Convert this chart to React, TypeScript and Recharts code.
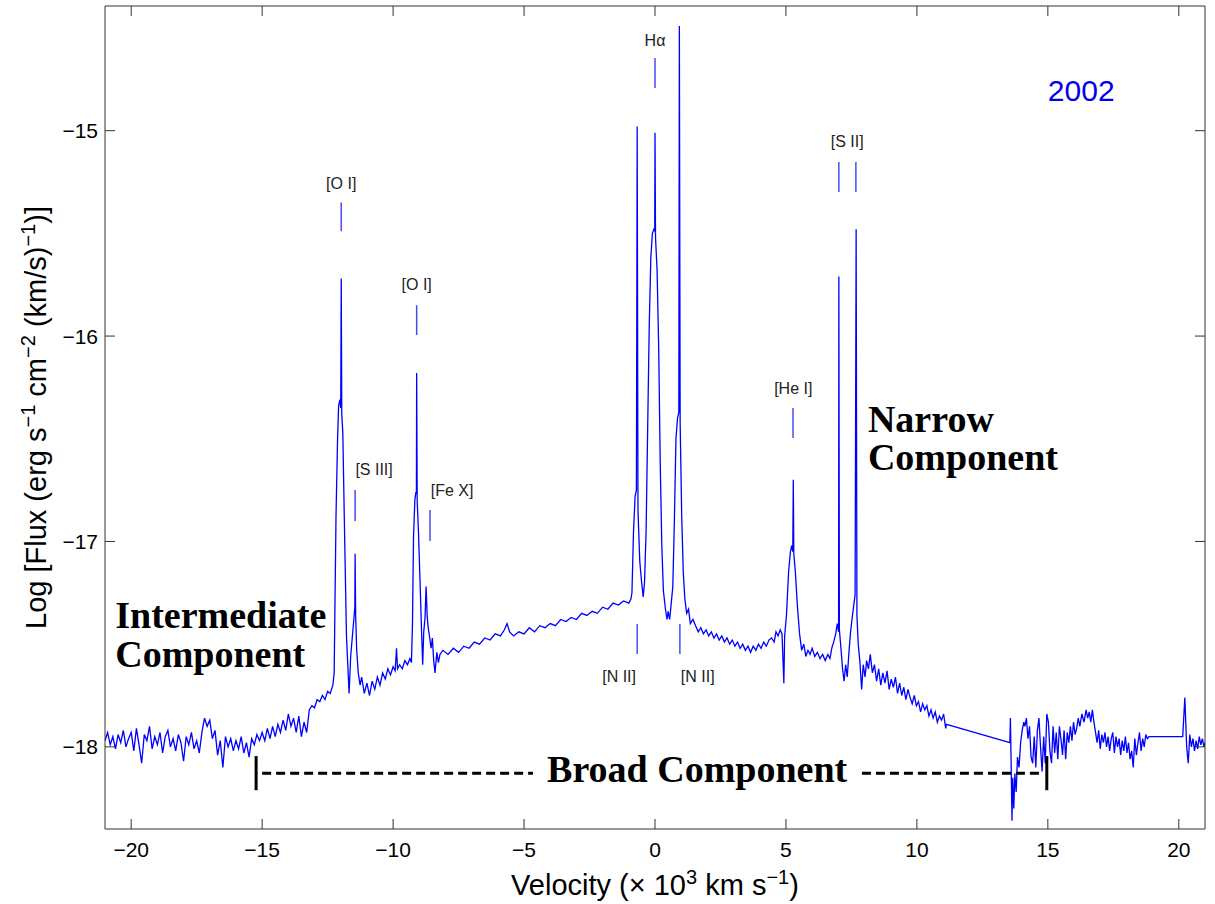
import React from 'react'
import { Label, Line, LineChart, ReferenceDot, ReferenceLine, XAxis, YAxis } from 'recharts'

type Pt = [number, number]

// velocity (10^3 km/s), log flux
const blueContinuum: Pt[] = [
  [-21.0, -17.97], [-20.9, -17.93], [-20.8, -17.99], [-20.7, -17.95], [-20.6, -18.01], [-20.5, -17.94],
  [-20.4, -17.98], [-20.3, -17.92], [-20.2, -18.0], [-20.1, -17.96], [-20.0, -17.93], [-19.9, -18.02],
  [-19.8, -17.91], [-19.7, -17.99], [-19.6, -18.08], [-19.5, -17.94], [-19.4, -17.97], [-19.3, -17.9],
  [-19.2, -18.01], [-19.1, -17.95], [-19.0, -17.99], [-18.9, -17.93], [-18.8, -18.03], [-18.7, -17.95],
  [-18.6, -17.92], [-18.5, -18.0], [-18.4, -17.96], [-18.3, -18.02], [-18.2, -17.94], [-18.1, -17.98],
  [-18.0, -18.07], [-17.9, -17.95], [-17.8, -17.99], [-17.7, -17.93], [-17.6, -18.01], [-17.5, -17.97],
  [-17.4, -18.03], [-17.3, -17.93], [-17.2, -17.86], [-17.1, -17.9], [-17.0, -17.87], [-16.9, -17.96],
  [-16.8, -17.92], [-16.7, -18.04], [-16.6, -17.97], [-16.5, -18.1], [-16.4, -17.95], [-16.3, -18.0],
  [-16.2, -17.96], [-16.1, -18.02], [-16.0, -17.97], [-15.9, -18.01], [-15.8, -17.95], [-15.7, -18.03],
  [-15.6, -17.98], [-15.5, -18.05], [-15.4, -17.96], [-15.3, -17.99], [-15.2, -17.94], [-15.1, -17.97],
  [-15.0, -17.93], [-14.9, -17.97], [-14.8, -17.91], [-14.7, -17.96], [-14.6, -17.9], [-14.5, -17.95],
  [-14.4, -17.89], [-14.3, -17.93], [-14.2, -17.87], [-14.1, -17.92], [-14.0, -17.84], [-13.9, -17.9],
  [-13.8, -17.86], [-13.7, -17.93], [-13.6, -17.85], [-13.5, -17.95], [-13.4, -17.88], [-13.3, -17.93],
  [-13.2, -17.82], [-13.1, -17.8], [-13.0, -17.81], [-12.9, -17.77], [-12.8, -17.78], [-12.7, -17.75],
  [-12.6, -17.77], [-12.5, -17.73], [-12.4, -17.74], [-12.3, -17.7],
]

const oxygenRegion: Pt[] = [
  [-12.25, -17.64], [-12.18, -16.88], [-12.12, -16.5], [-12.08, -16.34], [-12.03, -16.31], [-12.0, -16.35],
  [-11.98, -15.72], [-11.96, -16.38], [-11.92, -16.47], [-11.85, -16.98], [-11.78, -17.46], [-11.68, -17.74],
  [-11.62, -17.56], [-11.56, -17.47], [-11.5, -17.38], [-11.46, -17.32], [-11.45, -17.06], [-11.43, -17.36],
  [-11.39, -17.53], [-11.33, -17.64], [-11.26, -17.7], [-11.2, -17.66], [-11.1, -17.74], [-11.0, -17.69],
  [-10.9, -17.75], [-10.8, -17.68], [-10.7, -17.72], [-10.6, -17.66], [-10.5, -17.7], [-10.4, -17.64],
  [-10.3, -17.67], [-10.2, -17.62], [-10.1, -17.65], [-10.0, -17.61], [-9.92, -17.63], [-9.87, -17.52],
  [-9.83, -17.62], [-9.75, -17.6], [-9.65, -17.62], [-9.55, -17.58], [-9.45, -17.6], [-9.36, -17.57],
  [-9.3, -17.59], [-9.26, -17.4], [-9.22, -16.98], [-9.17, -16.8], [-9.13, -16.76], [-9.11, -16.77],
  [-9.1, -16.18], [-9.08, -16.8], [-9.03, -16.96], [-8.97, -17.2], [-8.91, -17.45], [-8.87, -17.6],
  [-8.83, -17.44], [-8.78, -17.37], [-8.74, -17.22], [-8.7, -17.36], [-8.66, -17.42], [-8.6, -17.47],
  [-8.55, -17.52], [-8.5, -17.47], [-8.45, -17.58], [-8.4, -17.64], [-8.33, -17.54], [-8.27, -17.59],
  [-8.21, -17.55],
]

const innerBlueWing: Pt[] = [
  [-8.1, -17.53], [-7.9, -17.55], [-7.7, -17.52], [-7.5, -17.54], [-7.3, -17.51], [-7.1, -17.52],
  [-6.9, -17.49], [-6.7, -17.5], [-6.5, -17.47], [-6.3, -17.48], [-6.1, -17.45], [-5.9, -17.46],
  [-5.75, -17.43], [-5.65, -17.4], [-5.55, -17.44], [-5.4, -17.46], [-5.2, -17.44], [-5.0, -17.45],
  [-4.8, -17.42], [-4.6, -17.44], [-4.4, -17.41], [-4.2, -17.42], [-4.0, -17.4], [-3.8, -17.41],
  [-3.6, -17.38], [-3.4, -17.39], [-3.2, -17.37], [-3.0, -17.38], [-2.8, -17.35], [-2.6, -17.36],
  [-2.4, -17.34], [-2.2, -17.35], [-2.0, -17.32], [-1.8, -17.33], [-1.6, -17.3], [-1.4, -17.31],
  [-1.2, -17.29], [-1.0, -17.3], [-0.92, -17.28],
]

const hAlphaRegion: Pt[] = [
  [-0.88, -17.25], [-0.82, -16.95], [-0.76, -16.78], [-0.71, -16.75], [-0.68, -14.98], [-0.65, -16.85],
  [-0.58, -17.1], [-0.51, -17.2], [-0.45, -17.27], [-0.4, -17.2], [-0.34, -16.95], [-0.28, -16.45],
  [-0.22, -15.95], [-0.16, -15.62], [-0.1, -15.5], [-0.04, -15.48], [-0.01, -15.49], [0.0, -15.01],
  [0.02, -15.52], [0.08, -15.68], [0.14, -16.05], [0.2, -16.62], [0.26, -17.02], [0.32, -17.24],
  [0.4, -17.33], [0.46, -17.38], [0.5, -17.34], [0.56, -17.38], [0.62, -17.3], [0.68, -17.22],
  [0.74, -16.9], [0.8, -16.5], [0.86, -16.4], [0.91, -16.37], [0.93, -14.49], [0.96, -16.42],
  [1.02, -16.88], [1.08, -17.15], [1.14, -17.28], [1.21, -17.35], [1.28, -17.33], [1.35, -17.4],
  [1.45, -17.38],
]

const redWing: Pt[] = [
  [1.55, -17.41], [1.65, -17.44], [1.75, -17.42], [1.85, -17.45], [1.95, -17.43], [2.05, -17.46],
  [2.15, -17.44], [2.25, -17.47], [2.35, -17.45], [2.45, -17.48], [2.55, -17.46], [2.65, -17.49],
  [2.75, -17.47], [2.85, -17.5], [2.95, -17.48], [3.05, -17.51], [3.15, -17.49], [3.25, -17.52],
  [3.35, -17.5], [3.45, -17.53], [3.55, -17.51], [3.65, -17.54], [3.75, -17.51], [3.85, -17.53],
  [3.95, -17.5], [4.05, -17.52], [4.15, -17.49], [4.25, -17.51], [4.35, -17.48], [4.45, -17.47],
  [4.55, -17.49], [4.62, -17.44], [4.7, -17.46], [4.78, -17.43], [4.85, -17.45], [4.92, -17.69],
  [4.95, -17.46],
]

const heliumSulfurRegion: Pt[] = [
  [5.02, -17.36], [5.1, -17.15], [5.17, -17.05], [5.22, -17.02], [5.26, -17.05], [5.28, -16.7],
  [5.3, -17.06], [5.36, -17.15], [5.44, -17.32], [5.52, -17.45], [5.6, -17.53], [5.68, -17.5],
  [5.76, -17.56], [5.84, -17.53], [5.92, -17.55], [6.0, -17.52], [6.1, -17.56], [6.2, -17.54],
  [6.3, -17.57], [6.4, -17.55], [6.5, -17.58], [6.6, -17.55], [6.68, -17.57], [6.75, -17.52],
  [6.82, -17.49], [6.9, -17.45], [6.96, -17.4], [7.01, -17.44], [7.02, -15.71], [7.04, -17.43],
  [7.1, -17.52], [7.16, -17.62], [7.22, -17.68], [7.28, -17.6], [7.34, -17.66], [7.4, -17.55],
  [7.46, -17.45], [7.52, -17.38], [7.58, -17.32], [7.64, -17.26], [7.68, -15.48], [7.71, -17.36],
  [7.76, -17.5], [7.82, -17.58], [7.89, -17.72], [7.95, -17.6], [8.02, -17.66], [8.08, -17.58],
]

const farRedWing: Pt[] = [
  [8.15, -17.62], [8.22, -17.55], [8.3, -17.64], [8.38, -17.6], [8.46, -17.68], [8.54, -17.62],
  [8.62, -17.7], [8.7, -17.64], [8.78, -17.69], [8.86, -17.63], [8.94, -17.72], [9.02, -17.67],
  [9.1, -17.71], [9.18, -17.66], [9.26, -17.74], [9.34, -17.69], [9.42, -17.75], [9.5, -17.71],
  [9.58, -17.77], [9.66, -17.72], [9.74, -17.76], [9.82, -17.79], [9.9, -17.75], [9.98, -17.8],
  [10.06, -17.78], [10.14, -17.83], [10.22, -17.79], [10.3, -17.82], [10.38, -17.8], [10.46, -17.85],
  [10.54, -17.82], [10.62, -17.86], [10.7, -17.83], [10.78, -17.88], [10.86, -17.85], [10.94, -17.87],
  [11.02, -17.84], [11.1, -17.91], [11.13, -17.89],
]

const redTail: Pt[] = [
  [13.55, -17.98], [13.57, -17.86], [13.6, -18.1], [13.63, -18.36], [13.66, -18.15], [13.7, -18.3],
  [13.74, -18.13], [13.79, -18.22], [13.84, -18.05], [13.9, -18.1], [13.96, -17.98], [14.02, -17.92],
  [14.08, -17.88], [14.12, -17.9], [14.18, -17.86], [14.24, -17.96], [14.3, -17.9], [14.36, -18.05],
  [14.42, -18.08], [14.48, -17.95], [14.54, -18.1], [14.6, -17.92], [14.66, -17.86], [14.72, -18.0],
  [14.78, -18.12], [14.84, -17.95], [14.9, -18.08], [14.96, -17.84], [15.02, -17.88], [15.08, -18.02],
  [15.14, -18.08], [15.2, -17.9], [15.26, -18.03], [15.32, -17.93], [15.38, -18.06], [15.44, -17.9],
  [15.5, -17.96], [15.56, -18.04], [15.62, -17.92], [15.68, -18.06], [15.74, -17.93], [15.8, -17.98],
  [15.86, -17.9], [15.92, -17.97], [15.98, -17.88], [16.04, -17.94], [16.1, -17.91], [16.16, -17.86],
  [16.22, -17.9], [16.3, -17.84], [16.38, -17.88], [16.46, -17.82], [16.52, -17.86], [16.58, -17.83],
  [16.64, -17.88], [16.7, -17.82], [16.76, -17.88], [16.82, -17.93], [16.88, -17.98], [16.94, -17.92],
  [17.0, -18.01], [17.06, -17.94], [17.12, -17.98], [17.18, -17.93], [17.24, -18.0], [17.3, -17.95],
  [17.36, -18.02], [17.42, -17.96], [17.48, -17.93], [17.54, -18.03], [17.6, -17.95], [17.66, -18.0],
  [17.72, -17.96], [17.78, -18.04], [17.84, -17.97], [17.9, -18.02], [17.96, -17.95], [18.02, -18.03],
  [18.08, -17.98], [18.14, -18.06], [18.2, -18.02], [18.26, -18.1], [18.32, -17.96], [18.38, -18.04],
  [18.44, -17.98], [18.5, -17.93], [18.56, -18.02], [18.62, -17.96], [18.68, -18.0], [18.74, -17.94],
  [18.8, -17.96], [18.86, -17.95], [20.15, -17.95], [20.23, -17.76], [20.3, -18.0], [20.36, -18.08],
  [20.42, -17.94], [20.48, -18.0], [20.54, -17.96], [20.6, -18.02], [20.66, -17.97], [20.72, -18.01],
  [20.78, -17.95], [20.84, -17.99], [20.9, -17.96], [20.96, -18.0], [21.0, -17.98],
]

const spectrum = [
  ...blueContinuum,
  ...oxygenRegion,
  ...innerBlueWing,
  ...hAlphaRegion,
  ...redWing,
  ...heliumSulfurRegion,
  ...farRedWing,
  ...redTail,
].map(([v, f]) => ({ v, f }))

const xTicks = [-20, -15, -10, -5, 0, 5, 10, 15, 20]
const yTicks = [-18, -17, -16, -15]

// line identifications: marker positions and label anchor (velocity, log flux)
const lineIds = [
  { name: '[O I]', at: [-11.98], from: -15.35, to: -15.49, tx: -11.98, ty: -15.284, anchor: 'middle' },
  { name: '[O I]', at: [-9.1], from: -15.85, to: -15.995, tx: -9.1, ty: -15.777, anchor: 'middle' },
  { name: '[S III]', at: [-11.45], from: -16.75, to: -16.9, tx: -11.44, ty: -16.677, anchor: 'start' },
  { name: '[Fe X]', at: [-8.59], from: -16.847, to: -16.998, tx: -8.56, ty: -16.78, anchor: 'start' },
  { name: 'Hα', at: [0], from: -14.646, to: -14.792, tx: 0, ty: -14.588, anchor: 'middle' },
  { name: '[S II]', at: [7.02, 7.67], from: -15.152, to: -15.298, tx: 7.34, ty: -15.08, anchor: 'middle' },
  { name: '[He I]', at: [5.27], from: -16.35, to: -16.496, tx: 5.28, ty: -16.28, anchor: 'middle' },
  { name: '[N II]', at: [-0.68], from: -17.402, to: -17.548, tx: -1.37, ty: -17.685, anchor: 'middle' },
  { name: '[N II]', at: [0.95], from: -17.402, to: -17.548, tx: 1.63, ty: -17.685, anchor: 'middle' },
]

const componentNotes = [
  { text: 'Intermediate', x: -20.61, y: -17.422 },
  { text: 'Component', x: -20.61, y: -17.612 },
  { text: 'Narrow', x: 8.13, y: -16.466 },
  { text: 'Component', x: 8.13, y: -16.652 },
  { text: 'Broad Component', x: -4.12, y: -18.171 },
]

// dashed bracket for the broad component
const broadY = -18.128
const broadDashes = [[-15.0, -4.66], [7.9, 14.77]]
const broadBars = [-15.23, 14.96]

const SANS = '"Liberation Sans", Arial, Helvetica, sans-serif'
const SERIF = '"Liberation Serif", "Times New Roman", serif'

const fmt = (v: number) => (v < 0 ? '\u2212' + Math.abs(v) : String(v))

const XTitle = (props: any) => {
  const vb = props.viewBox ?? { x: 105, y: 829, width: 1100, height: 75 }
  const cx = vb.x + vb.width / 2
  const cy = vb.y + 66
  return (
    <text x={cx} y={cy} textAnchor="middle" fontSize={29} fontFamily={SANS} fill="#000">
      Velocity (× 10
      <tspan dy={-11} fontSize={20}>3</tspan>
      <tspan dy={11}> km s</tspan>
      <tspan dy={-11} fontSize={20}>−1</tspan>
      <tspan dy={11}>)</tspan>
    </text>
  )
}

const YTitle = (props: any) => {
  const vb = props.viewBox ?? { x: 0, y: 6, width: 105, height: 823 }
  const cx = vb.x + 46
  const cy = vb.y + vb.height / 2
  return (
    <text
      x={cx}
      y={cy}
      transform={`rotate(-90 ${cx} ${cy})`}
      textAnchor="middle"
      fontSize={29}
      fontFamily={SANS}
      fill="#000"
    >
      Log [Flux (erg s
      <tspan dy={-11} fontSize={20}>−1</tspan>
      <tspan dy={11}> cm</tspan>
      <tspan dy={-11} fontSize={20}>−2</tspan>
      <tspan dy={11}> (km/s)</tspan>
      <tspan dy={-11} fontSize={20}>−1</tspan>
      <tspan dy={11}>)]</tspan>
    </text>
  )
}

const textDot = (key: string, x: number, y: number, body: React.ReactNode, style: Record<string, any>) => (
  <ReferenceDot
    key={key}
    x={x}
    y={y}
    r={0}
    ifOverflow="visible"
    shape={(p: any) => (
      <text x={p.cx} y={p.cy} {...style}>
        {body}
      </text>
    )}
  />
)

export default function App() {
  const axisColor = '#333'
  return (
    <div style={{ position: 'absolute', left: 0, top: 0, width: 1215, height: 904, background: '#fff' }}>
      <LineChart width={1215} height={904} data={spectrum} margin={{ top: 5, right: 9, left: 0, bottom: 0 }}>
        <XAxis
          dataKey="v"
          type="number"
          domain={[-21, 21]}
          ticks={xTicks}
          allowDataOverflow
          height={75}
          tickSize={-10}
          tickMargin={23}
          tickFormatter={fmt}
          tick={{ fontSize: 21, fill: '#000', fontFamily: SANS }}
          stroke={axisColor}
        >
          <Label content={XTitle} />
        </XAxis>
        <XAxis
          xAxisId="top"
          orientation="top"
          dataKey="v"
          type="number"
          domain={[-21, 21]}
          ticks={xTicks}
          allowDataOverflow
          height={1}
          tickSize={-10}
          tickFormatter={() => ''}
          stroke={axisColor}
        />
        <YAxis
          type="number"
          domain={[-18.4, -14.393]}
          ticks={yTicks}
          allowDataOverflow
          width={105}
          tickSize={-10}
          tickMargin={17}
          tickFormatter={fmt}
          tick={{ fontSize: 21, fill: '#000', fontFamily: SANS }}
          stroke={axisColor}
        >
          <Label content={YTitle} />
        </YAxis>
        <YAxis
          yAxisId="right"
          orientation="right"
          type="number"
          domain={[-18.4, -14.393]}
          ticks={yTicks}
          allowDataOverflow
          width={1}
          tickSize={-10}
          tickFormatter={() => ''}
          stroke={axisColor}
        />

        {/* invisible copy so the top and right frame axes are active */}
        <Line
          xAxisId="top"
          yAxisId="right"
          type="linear"
          dataKey="f"
          stroke="none"
          dot={false}
          activeDot={false}
          isAnimationActive={false}
        />
        <Line
          type="linear"
          dataKey="f"
          stroke="#0000ff"
          strokeWidth={1.3}
          dot={false}
          activeDot={false}
          isAnimationActive={false}
        />

        {lineIds.flatMap((id, i) =>
          id.at.map((x, j) => (
            <ReferenceLine
              key={`tick-${i}-${j}`}
              segment={[
                { x, y: id.from },
                { x, y: id.to },
              ]}
              stroke="#4a4af0"
              strokeWidth={1.5}
              ifOverflow="visible"
            />
          ))
        )}
        {lineIds.map((id, i) =>
          textDot(`id-${i}`, id.tx, id.ty, id.name, {
            textAnchor: id.anchor,
            fontSize: 16,
            fontFamily: SANS,
            fill: '#222',
          })
        )}

        {broadDashes.map(([a, b], i) => (
          <ReferenceLine
            key={`dash-${i}`}
            segment={[
              { x: a, y: broadY },
              { x: b, y: broadY },
            ]}
            stroke="#000"
            strokeWidth={3}
            strokeDasharray="9 5"
            ifOverflow="visible"
          />
        ))}
        {broadBars.map((x, i) => (
          <ReferenceLine
            key={`bar-${i}`}
            segment={[
              { x, y: -18.045 },
              { x, y: -18.211 },
            ]}
            stroke="#000"
            strokeWidth={3}
            ifOverflow="visible"
          />
        ))}

        {componentNotes.map((n, i) =>
          textDot(`note-${i}`, n.x, n.y, n.text, {
            textAnchor: 'start',
            fontSize: 38,
            fontWeight: 'bold',
            fontFamily: SERIF,
            fill: '#000',
          })
        )}
        {textDot('year', 15.0, -14.856, '2002', {
          textAnchor: 'start',
          fontSize: 30,
          fontFamily: SANS,
          fill: '#0000ee',
        })}
      </LineChart>
    </div>
  )
}
